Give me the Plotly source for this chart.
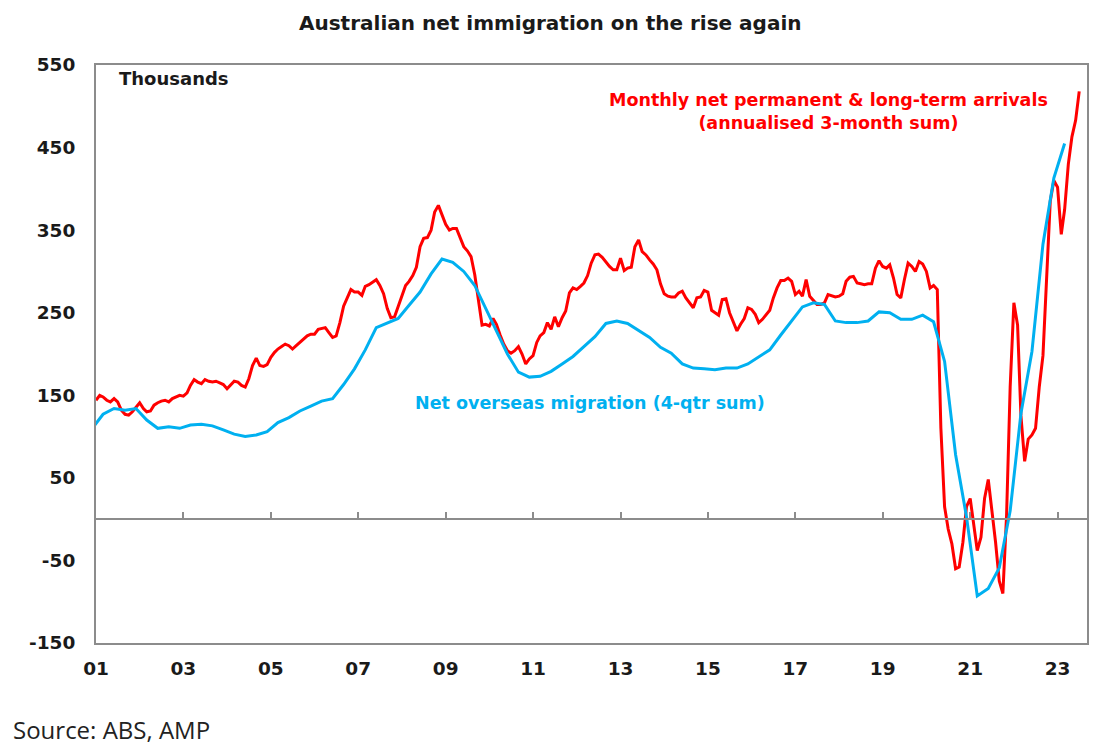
import pandas as pd
import plotly.graph_objects as go

# Monthly net permanent & long-term arrivals, annualised 3-month sum (thousands), Jan 2001 onwards
arrivals = [
    144, 150, 148, 144, 142, 146, 142, 132, 127, 126,
    130, 136, 141, 134, 130, 131, 138, 141, 143, 144,
    142, 146, 148, 150, 149, 153, 162, 169, 166, 164,
    169, 167, 166, 167, 165, 163, 158, 163, 167, 166,
    162, 160, 170, 186, 195, 186, 185, 187, 196, 202,
    206, 209, 212, 210, 206, 210, 214, 219, 222, 224,
    224, 230, 231, 232, 226, 220, 222, 238, 258, 268,
    278, 275, 275, 271, 282, 284, 287, 290, 283, 273,
    255, 244, 245, 258, 272, 283, 288, 295, 305, 330,
    340, 341, 350, 372, 380, 368, 357, 350, 352, 352,
    340, 330, 325, 318, 296, 268, 235, 236, 234, 243,
    236, 223, 212, 204, 201, 204, 209, 200, 188, 194,
    198, 214, 222, 226, 238, 230, 245, 233, 244, 252,
    274, 280, 278, 282, 286, 295, 310, 320, 321, 317,
    311, 306, 302, 302, 316, 301, 304, 305, 330, 338,
    324, 320, 314, 309, 302, 285, 273, 270, 269, 269,
    274, 276, 268, 262, 256, 268, 269, 277, 275, 253,
    250, 247, 266, 267, 250, 238, 228, 236, 243, 256,
    254, 248, 238, 242, 247, 253, 268, 280, 289, 289,
    292, 288, 272, 276, 270, 290, 270, 265, 260, 260,
    262, 272, 270, 269, 270, 273, 288, 293, 294, 286,
    285, 284, 285, 285, 304, 313, 306, 304, 308, 292,
    272, 268, 290, 310, 306, 300, 312, 309, 300, 280,
    283, 278, 110, 15, -12, -30, -60, -58, -28, 15,
    25, -8, -38, -22, 25, 48, 12, -28, -75, -90,
    5, 160, 262, 235, 125, 70, 97, 102, 110, 160,
    198, 300, 385, 410, 402, 345, 375, 430, 463, 483,
    518,
]

# Net overseas migration, 4-quarter sum (thousands), quarterly from Dec 2000
nom = [
    110, 127, 134, 132, 134, 120, 110, 112, 110, 114,
    115, 113, 108, 103, 100, 102, 106, 117, 123, 131,
    137, 143, 146, 163, 182, 205, 232, 238, 243, 259,
    275, 297, 315, 311, 300, 283, 255, 228, 200, 178,
    172, 173, 179, 188, 197, 209, 221, 237, 240, 237,
    229, 220, 208, 201, 188, 183, 182, 181, 183, 183,
    188, 196, 205, 223, 240, 257, 262, 260, 240, 238,
    238, 240, 251, 250, 242, 242, 247, 239, 191, 78,
    3, -93, -84, -59, 10, 128, 203, 333, 413, 455,
]

arr_dates = pd.date_range("2001-01-01", periods=len(arrivals), freq="MS")
nom_dates = pd.date_range("2000-12-01", periods=len(nom), freq="3MS")

tick_years = list(range(2001, 2024, 2))
tick_vals = [f"{y}-01-01" for y in tick_years]
tick_text = [f"{y % 100:02d}" for y in tick_years]
y_ticks = [-150, -50, 50, 150, 250, 350, 450, 550]
y_text = [str(v) for v in y_ticks]

RED = "#FF0000"
BLUE = "#00B0F0"
GREY = "#8C8C8C"
INK = "#1A1A1A"
BOLD = "DejaVu Sans"

fig = go.Figure()
fig.add_trace(go.Scatter(x=arr_dates, y=arrivals, mode="lines",
                         line=dict(color=RED, width=3), showlegend=False))
fig.add_trace(go.Scatter(x=nom_dates, y=nom, mode="lines",
                         line=dict(color=BLUE, width=3), showlegend=False))
# empty trace so the zero-line axis gets drawn
fig.add_trace(go.Scatter(x=[], y=[], xaxis="x2", hoverinfo="skip", showlegend=False))

# page has an 8px body margin, so the figure is 8px smaller each way
fig.update_layout(
    width=1106, height=747,
    margin=dict(l=88, r=27, t=57, b=112),
    paper_bgcolor="white", plot_bgcolor="white",
    xaxis=dict(
        type="date", range=["2001-01-01", "2023-09-04"],
        tickvals=tick_vals, ticktext=tick_text,
        showgrid=False, zeroline=False,
        showline=True, linecolor=GREY, linewidth=2, mirror=True,
        ticks="", ticklabelstandoff=8,
        tickfont=dict(family=BOLD, size=18.5, color=INK, weight="bold"),
    ),
    # zero line with upward year ticks
    xaxis2=dict(
        type="date", overlaying="x", matches="x", anchor="free",
        position=150 / 700, side="bottom",
        tickvals=tick_vals, showticklabels=False,
        showgrid=False, zeroline=False,
        showline=True, linecolor=GREY, linewidth=2,
        ticks="inside", ticklen=6, tickwidth=1.5, tickcolor=GREY,
    ),
    yaxis=dict(
        range=[-150, 550], tickvals=y_ticks, ticktext=y_text,
        showgrid=False, zeroline=False,
        showline=True, linecolor=GREY, linewidth=2, mirror=True,
        ticks="", ticklabelstandoff=15,
        tickfont=dict(family=BOLD, size=18.5, color=INK, weight="bold"),
    ),
)

fig.add_annotation(text="<b>Australian net immigration on the rise again</b>",
                   xref="paper", yref="paper", x=0.4589, y=1.0727,
                   xanchor="center", yanchor="middle", showarrow=False,
                   font=dict(family=BOLD, size=20, color=INK))
fig.add_annotation(text="<b>Thousands</b>",
                   xref="paper", yref="paper", x=0.021, y=0.9775,
                   xanchor="left", yanchor="middle", showarrow=False,
                   font=dict(family=BOLD, size=18, color=INK))
fig.add_annotation(text="<b>Monthly net permanent & long-term arrivals<br>(annualised 3-month sum)</b>",
                   xref="paper", yref="paper", x=0.7395, y=0.9187,
                   xanchor="center", yanchor="middle", align="center",
                   showarrow=False, font=dict(family=BOLD, size=17.5, color=RED))
fig.add_annotation(text="<b>Net overseas migration (4-qtr sum)</b>",
                   xref="paper", yref="paper", x=0.3195, y=0.4152,
                   xanchor="left", yanchor="middle", showarrow=False,
                   font=dict(family=BOLD, size=17.5, color=BLUE))
fig.add_annotation(text="Source: ABS, AMP",
                   xref="paper", yref="paper", x=-0.0856, y=-0.1488,
                   xanchor="left", yanchor="middle", showarrow=False,
                   font=dict(family="Open Sans", size=24, color="#222222"))

fig.write_html("out.html")
